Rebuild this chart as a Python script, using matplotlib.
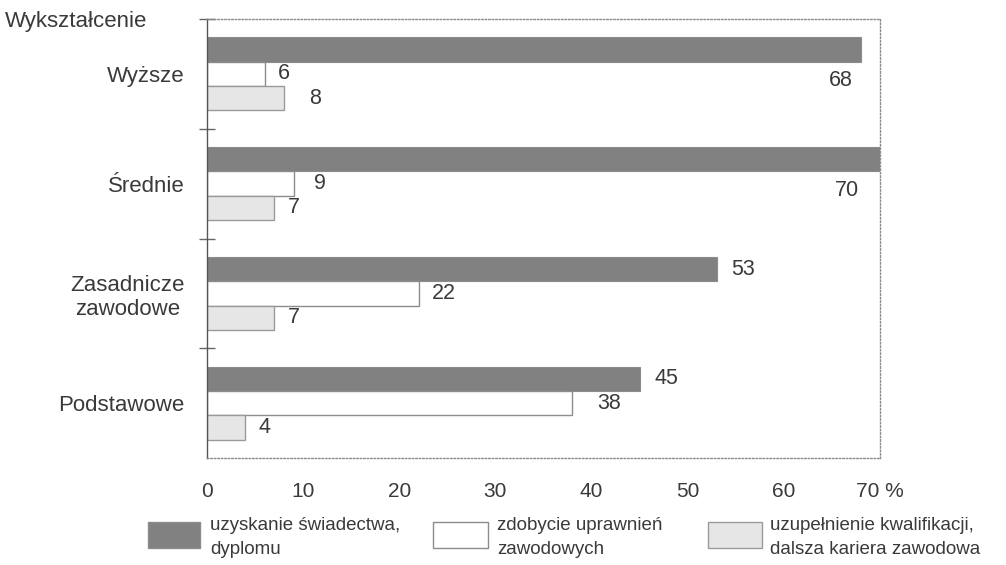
import numpy as np
import matplotlib; matplotlib.use("Agg")
import matplotlib.pyplot as plt
from matplotlib import font_manager
from matplotlib.patches import Rectangle

# dane
grupy = ["Wyższe", "Średnie", "Zasadnicze\nzawodowe", "Podstawowe"]
swiadectwo = [68, 70, 53, 45]
uprawnienia = [6, 9, 22, 38]
kwalifikacje = [8, 7, 7, 4]
serie = ["uzyskanie świadectwa,\ndyplomu",
         "zdobycie uprawnień\nzawodowych",
         "uzupełnienie kwalifikacji,\ndalsza kariera zawodowa"]
xticks = [0, 10, 20, 30, 40, 50, 60, 70]
xtick_labels = ["0", "10", "20", "30", "40", "50", "60", "70 %"]

names = {f.name for f in font_manager.fontManager.ttflist}
REG = "Liberation Sans" if "Liberation Sans" in names else "DejaVu Sans"
plt.rcParams["font.family"] = REG

TXT = "#3a3a3a"
C_DARK, C_WHITE, C_LIGHT = "#818181", "#ffffff", "#e6e6e6"
W, H = 1006, 565

fig = plt.figure(figsize=(W/100, H/100), dpi=100)
ax = fig.add_axes([207/W, 1-458/H, (880-207)/W, (458-19)/H])

y = np.arange(len(grupy))
h = 0.222
ax.barh(y-h, swiadectwo, height=h, color=C_DARK, edgecolor="#8c8c8c", lw=0.8)
ax.barh(y, uprawnienia, height=h, color=C_WHITE, edgecolor="#8c8c8c", lw=1)
ax.barh(y+h, kwalifikacje, height=h, color=C_LIGHT, edgecolor="#9a9a9a", lw=1)

ax.set_xlim(0, 70)
ax.set_ylim(3.5, -0.5)

# etykiety wartosci
for i, v in enumerate(swiadectwo):
    if v >= 60:
        ax.text(min(v, 68.6)-0.8, i+0.06, str(v), ha="right", va="center",
                fontsize=15.5, color=TXT)
    else:
        ax.text(v+1.5, i-h, str(v), ha="left", va="center", fontsize=15.5, color=TXT)
nudge_u = {1: 0.7, 3: 1.2}
for i, v in enumerate(uprawnienia):
    ax.text(v+1.4+nudge_u.get(i, 0), i, str(v), ha="left", va="center",
            fontsize=15.5, color=TXT)
nudge_k = {0: 1.2}
for i, v in enumerate(kwalifikacje):
    ax.text(v+1.4+nudge_k.get(i, 0), i+h, str(v), ha="left", va="center",
            fontsize=15.5, color=TXT)

ax.set_xticks(xticks)
ax.set_xticklabels(xtick_labels, fontsize=15, color=TXT)
ax.tick_params(axis="x", length=0, pad=17)
ax.set_yticks(y)
ax.set_yticklabels(grupy, fontsize=16, color=TXT, multialignment="center")
ax.tick_params(axis="y", length=0, pad=16)
ax.set_yticks([-0.5, 0.5, 1.5, 2.5], minor=True)
ax.tick_params(axis="y", which="minor", length=12, direction="inout",
               color="#666", width=1)

for s in ["top", "right", "bottom"]:
    ax.spines[s].set_linestyle((0, (1, 1.5)))
    ax.spines[s].set_color("#8a8a8a")
    ax.spines[s].set_linewidth(1)
ax.spines["left"].set_color("#555")
ax.spines["left"].set_linewidth(1)

fig.text(5/W, 1-22/H, "Wykształcenie", fontsize=16, color=TXT, va="center", ha="left")

# legenda
leg = [(148, 200, C_DARK, "#8c8c8c", 210),
       (433, 488, C_WHITE, "#8c8c8c", 497),
       (708, 762, C_LIGHT, "#9a9a9a", 770)]
for (x0, x1, fc, ec, tx), lab in zip(leg, serie):
    fig.add_artist(Rectangle((x0/W, 1-548/H), (x1-x0)/W, 26/H, transform=fig.transFigure,
                             facecolor=fc, edgecolor=ec, lw=1))
    fig.text(tx/W, 1-517/H, lab, fontsize=13.5, color=TXT,
             va="top", ha="left", linespacing=1.5)

fig.savefig("out.png", dpi=100)
